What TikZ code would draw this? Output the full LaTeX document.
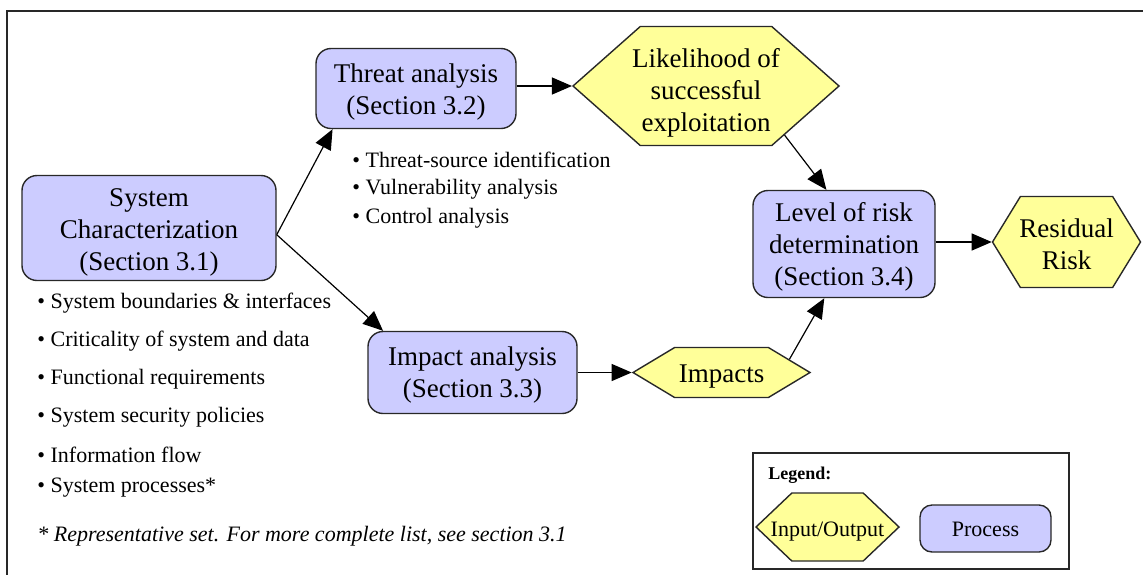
\documentclass[tikz,border=0pt]{standalone}
\usepackage{fontspec}
\setmainfont{Liberation Serif}
\usetikzlibrary{arrows.meta,shapes.symbols}
\definecolor{procfill}{RGB}{204,204,255}
\definecolor{iofill}{RGB}{255,255,153}
\definecolor{edgegray}{RGB}{40,40,40}
% label of zero size, so that the shape keeps its given size
\newcommand{\boxlabel}[2][5.5pt]{\raisebox{-#1}[0pt][0pt]{\makebox[0pt]{\begin{tabular}{@{}c@{}}#2\end{tabular}}}}

\tikzset{
  process/.style={draw=edgegray, line width=0.7pt, fill=procfill,
    rounded corners=7.5pt, inner sep=0pt,
    font=\fontsize{13.5}{16}\selectfont},
  iohex/.style={signal, signal to=east and west, draw=edgegray,
    line width=0.7pt, fill=iofill, inner sep=0pt,
    font=\fontsize{13.5}{16}\selectfont},
  flow/.style={line width=0.6pt, -{Triangle[length=10pt,width=8.5pt]}},
  bullet/.style={anchor=west, inner sep=0pt, font=\fontsize{11}{13}\selectfont},
}

\begin{document}
\begin{tikzpicture}[x=0.5pt, y=-0.5pt]
    \useasboundingbox (0,0) rectangle (1143,574);
    \draw[line width=1pt, draw=edgegray] (7,11) rectangle (1170,600);

    % processes
    \node[process, minimum width=127pt, minimum height=52.5pt] (sys) at (149,228)
        {\boxlabel[5.75pt]{System\\Characterization\\(Section 3.1)}};
    \node[process, minimum width=100pt, minimum height=40pt] (threat) at (416,88.5)
        {\boxlabel{Threat analysis\\(Section 3.2)}};
    \node[process, minimum width=104.5pt, minimum height=41pt] (impact) at (472.5,372.5)
        {\boxlabel[5pt]{Impact analysis\\(Section 3.3)}};
    \node[process, minimum width=91pt, minimum height=53.5pt] (level) at (844,244)
        {\boxlabel[5pt]{Level of risk\\determination\\(Section 3.4)}};

    % inputs / outputs
    \node[iohex, signal pointer angle=83, minimum width=133pt, minimum height=59.5pt] (lik) at (706,86)
        {\boxlabel[7pt]{Likelihood of\\successful\\exploitation}};
    \node[iohex, signal pointer angle=117, minimum width=74pt, minimum height=45.5pt] (res) at (1066.5,242)
        {\boxlabel[6pt]{Residual\\Risk}};
    \node[iohex, signal pointer angle=62, minimum width=88.5pt, minimum height=25pt] (imp) at (721.5,372.5)
        {\boxlabel[5.3pt]{Impacts}};

    % flows
    \draw[flow] (sys.-3) -- (threat.206);
    \draw[flow] (sys.-3) -- (impact.155);
    \draw[flow] (threat.east |- lik.west) -- (lik.west);
    \draw[flow] (impact.east |- imp.west) -- (imp.west);
    \draw[flow] (lik.-32) -- (level.108);
    \draw[flow] (imp.11) -- (level.-110);
    \draw[flow] (level.east |- res.west) -- (res.west);

    % activity lists
    \foreach \y/\t in {160/Threat-source identification, 189/Vulnerability analysis,
        218/Control analysis}
        \node[bullet] at (352,\y) {\textbullet\ \t};
    \foreach \y/\t in {303/System boundaries \& interfaces, 341/Criticality of system and data,
        379/Functional requirements, 417/System security policies,
        455/Information flow, 488/System processes*}
        \node[bullet] at (37,\y) {\textbullet\ \t};
    \node[bullet, font=\fontsize{11}{13}\itshape] (note) at (37,536)
        {* Representative set. For more complete list, see section 3.1};

    % legend
    \draw[line width=0.6pt, draw=edgegray] (753,453) rectangle (1069,569);
    \node[anchor=west, inner sep=0pt, font=\fontsize{9}{10}\bfseries] (legtitle) at (768,475) {Legend:};
    \node[iohex, signal pointer angle=87, minimum width=71.5pt, minimum height=34pt,
        font=\fontsize{11}{13}\selectfont] (legio) at (827.5,527) {\boxlabel[4.8pt]{Input/Output}};
    \node[process, rounded corners=6pt, minimum width=65.5pt, minimum height=23.5pt,
        font=\fontsize{11}{13}\selectfont] (legproc) at (985.5,528.5) {\boxlabel[4pt]{Process}};
\end{tikzpicture}
\end{document}
